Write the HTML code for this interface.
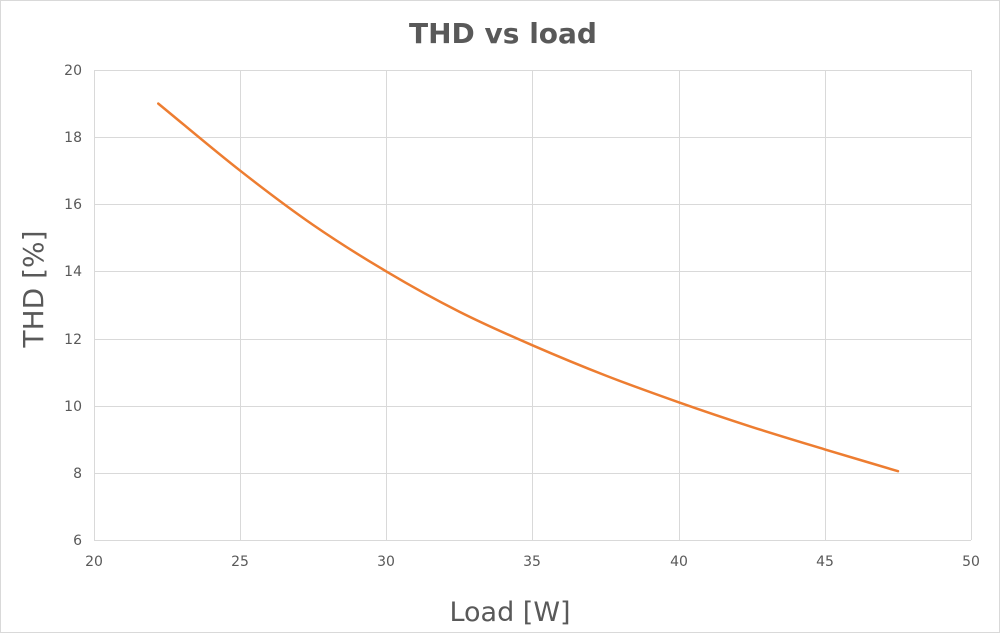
<!DOCTYPE html>
<html><head><meta charset="utf-8"><style>
html,body{margin:0;padding:0;background:#fff}
svg{display:block}
text{font-family:"DejaVu Sans","Liberation Sans",sans-serif;fill:#595959}
</style></head><body>
<svg width="1000" height="633" viewBox="0 0 1000 633">
<rect x="0.5" y="0.5" width="999" height="632" fill="#fff" stroke="#d9d9d9"/>
<text x="503" y="43" text-anchor="middle" font-size="28" font-weight="bold">THD vs load</text>
<g stroke="#d9d9d9" stroke-width="1">
<line x1="94" y1="70.5" x2="971" y2="70.5"/>
<line x1="94" y1="137.5" x2="971" y2="137.5"/>
<line x1="94" y1="204.5" x2="971" y2="204.5"/>
<line x1="94" y1="271.5" x2="971" y2="271.5"/>
<line x1="94" y1="339.5" x2="971" y2="339.5"/>
<line x1="94" y1="406.5" x2="971" y2="406.5"/>
<line x1="94" y1="473.5" x2="971" y2="473.5"/>
<line x1="94" y1="540.5" x2="971" y2="540.5"/>
<line x1="94.5" y1="70" x2="94.5" y2="540"/>
<line x1="240.5" y1="70" x2="240.5" y2="540"/>
<line x1="386.5" y1="70" x2="386.5" y2="540"/>
<line x1="532.5" y1="70" x2="532.5" y2="540"/>
<line x1="679.5" y1="70" x2="679.5" y2="540"/>
<line x1="825.5" y1="70" x2="825.5" y2="540"/>
<line x1="971.5" y1="70" x2="971.5" y2="540"/>
</g>
<g font-size="14" text-anchor="end">
<text x="82" y="75">20</text><text x="82" y="142">18</text><text x="82" y="209">16</text>
<text x="82" y="276">14</text><text x="82" y="344">12</text><text x="82" y="411">10</text>
<text x="82" y="478">8</text><text x="82" y="545">6</text>
</g>
<g font-size="14" text-anchor="middle">
<text x="94" y="566">20</text><text x="240" y="566">25</text><text x="386" y="566">30</text>
<text x="532" y="566">35</text><text x="679" y="566">40</text><text x="825" y="566">45</text>
<text x="971" y="566">50</text>
</g>
<text x="510" y="621" font-size="27" text-anchor="middle">Load [W]</text>
<text transform="translate(43,289) rotate(-90)" font-size="28" text-anchor="middle">THD [%]</text>
<path d="M158.3,103.6 C185.6,126 214.4,150.5 240.2,170.7 C266,190.9 288.85,208.2 313.2,225 C337.6,241.8 361.9,257 386.3,271.4 C410.7,285.9 435,299.4 459.4,311.7 C483.8,324 508.1,334.7 532.5,345.3 C556.9,355.9 581.2,366 605.6,375.5 C630,385 654.35,393.7 678.7,402.3 C703.05,410.9 727.35,419.05 751.7,426.9 C776.05,434.75 800.4,442 824.8,449.4 C849.2,456.8 873.6,463.9 898,471.2" fill="none" stroke="#ed7d31" stroke-width="2.5" stroke-linecap="round"/>
</svg>
</body></html>
